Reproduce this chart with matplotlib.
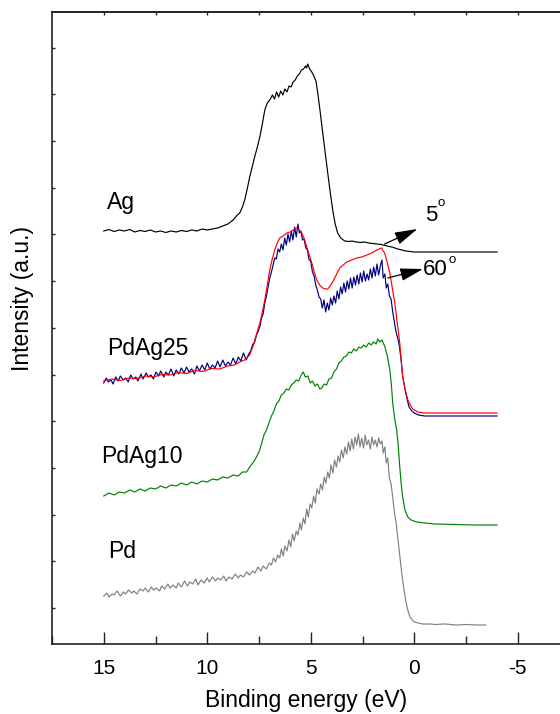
import numpy as np
import matplotlib
matplotlib.use("Agg")
import matplotlib.pyplot as plt

plt.rcParams['font.family'] = ['Liberation Sans', 'DejaVu Sans']

# ---------------- data (binding energy in eV, intensity in a.u.) ----------------
ag_x = [15.0, 14.75, 14.5, 14.25, 14.0, 13.75, 13.5, 13.25, 13.0, 12.75, 12.5, 12.25, 12.0, 11.75,
        11.5, 11.25, 11.0, 10.75, 10.5, 10.25, 10.0, 9.75, 9.5, 9.25, 9.0, 8.75, 8.55, 8.43, 8.3,
        8.19, 8.07, 7.95, 7.83, 7.71, 7.58, 7.46, 7.34, 7.22, 7.1, 6.98, 6.85, 6.75, 6.65, 6.55,
        6.45, 6.35, 6.25, 6.15, 6.05, 5.95, 5.85, 5.75, 5.65, 5.55, 5.45, 5.35, 5.25, 5.2, 5.15,
        5.05, 4.95, 4.85, 4.75, 4.66, 4.55, 4.42, 4.3, 4.18, 4.06, 3.94, 3.82, 3.7, 3.55, 3.36,
        3.15, 3.0, 2.8, 2.6, 2.4, 2.2, 2.0, 1.8, 1.6, 1.4, 1.2, 1.0, 0.8, 0.6, 0.4, 0.2, 0.0,
        -0.25, -0.5, -1.0, -1.5, -2.0, -2.5, -3.0, -3.5, -4.0]
ag_y = [413, 414.5, 412.5, 414, 413, 414.5, 412, 413.5, 412.5, 414, 412, 413, 411.5, 413,
        412, 413.5, 412.5, 414, 413, 415, 414, 415, 416, 418, 420, 424, 429, 431, 437,
        444, 455, 467, 477, 487, 497, 507, 520, 534, 541, 544, 549, 545, 552, 547,
        553, 549, 555, 552, 558, 557, 562, 564, 568, 570, 574, 575, 578, 576, 580,
        575, 572, 568, 563, 551, 533, 511, 491, 471, 452, 434, 420, 411, 406, 403,
        402.5, 403, 402, 401.5, 402, 401, 400.5, 400, 399.5, 398.5, 397.5, 396.5, 395, 394, 393, 392.5, 392,
        392, 392, 392, 392, 392, 392, 392, 392, 392]

pdag25_5_x = [15.0, 14.6, 14.2, 13.8, 13.4, 13.0, 12.6, 12.2, 11.8, 11.4, 11.0, 10.6, 10.2, 9.8,
              9.4, 9.0, 8.7, 8.43, 8.2, 7.95, 7.8, 7.66, 7.46, 7.34, 7.22, 7.1, 6.98, 6.86, 6.74,
              6.62, 6.5, 6.33, 6.16, 6.0, 5.85, 5.68, 5.55, 5.43, 5.31, 5.19, 5.07, 4.95, 4.83,
              4.71, 4.57, 4.42, 4.3, 4.18, 4.06, 3.94, 3.77, 3.6, 3.43, 3.26, 3.02, 2.78, 2.54,
              2.29, 2.05, 1.81, 1.69, 1.57, 1.5, 1.43, 1.3, 1.18, 1.06, 0.94, 0.82, 0.7, 0.63,
              0.56, 0.43, 0.31, 0.19, 0.07, -0.17, -0.5, -1.23, -2.0, -3.0, -4.0]
pdag25_5_y = [263, 265, 263.5, 266, 265.5, 268, 267, 269.5, 269, 271.5, 270.5, 273.5, 272.5, 275.5,
              275, 278, 279, 282, 284, 289, 297, 307, 321, 332, 344, 359, 374, 385, 394,
              401, 406, 408, 411, 412, 414, 416, 414, 411, 405, 397, 389, 381, 372,
              364, 359, 356, 355, 355, 358, 362, 369, 376, 379, 382, 384, 386, 387,
              389, 391, 394, 395, 396, 393, 391, 381, 371, 356, 341, 321, 301, 284,
              267, 254, 244, 239, 235, 232, 231, 231, 231, 231, 231]

pdag25_60_x = [15.0, 14.88, 14.78, 14.65, 14.55, 14.42, 14.3, 14.2, 14.05, 13.95, 13.82, 13.7, 13.58,
               13.45, 13.35, 13.2, 13.1, 12.95, 12.85, 12.72, 12.6, 12.48, 12.35, 12.25, 12.1, 12.0,
               11.88, 11.75, 11.62, 11.5, 11.38, 11.25, 11.12, 11.0, 10.88, 10.75, 10.62, 10.5,
               10.38, 10.25, 10.12, 10.0, 9.88, 9.75, 9.62, 9.5, 9.38, 9.25, 9.12, 9.0, 8.88, 8.75,
               8.62, 8.5, 8.38, 8.25, 8.12, 8.0, 7.9, 7.8, 7.72, 7.62, 7.55, 7.45, 7.38, 7.3, 7.22,
               7.14, 7.06, 6.98, 6.9, 6.82, 6.74, 6.66, 6.58, 6.5, 6.42, 6.34, 6.26, 6.18, 6.1, 6.02,
               5.94, 5.86, 5.78, 5.7, 5.62, 5.55, 5.48, 5.4, 5.32, 5.24, 5.16, 5.08, 5.0, 4.92, 4.84,
               4.76, 4.68, 4.6, 4.52, 4.44, 4.36, 4.28, 4.2, 4.12, 4.04, 3.96, 3.88, 3.8, 3.72, 3.64,
               3.56, 3.48, 3.4, 3.32, 3.24, 3.16, 3.08, 3.0, 2.92, 2.84, 2.76, 2.68, 2.6, 2.52, 2.44,
               2.36, 2.28, 2.2, 2.12, 2.04, 1.96, 1.88, 1.8, 1.72, 1.64, 1.56, 1.5, 1.42, 1.35, 1.28,
               1.2, 1.12, 1.04, 0.96, 0.88, 0.8, 0.72, 0.64, 0.56, 0.45, 0.35, 0.25, 0.12, 0.0, -0.2,
               -0.5, -1.0, -1.5, -2.0, -2.5, -3.0, -3.5, -4.0]
pdag25_60_y = [261, 266, 262, 264, 260, 267, 263, 268, 264, 266, 262, 269, 265,
               267, 263, 270, 265, 271, 267, 269, 265, 272, 268, 273, 267, 272,
               269, 275, 268, 274, 270, 276, 271, 277, 272, 275, 270, 278,
               273, 279, 274, 281, 275, 279, 276, 283, 277, 284, 278, 282, 279, 286,
               280, 287, 283, 291, 284, 290, 293, 300, 301, 309, 312, 318, 326, 330, 341,
               348, 357, 366, 372, 379, 386, 385, 395, 392, 400, 394, 406, 399, 410, 402,
               413, 404, 417, 407, 420, 411, 413, 404, 405, 396, 394, 384, 383, 372, 368,
               359, 354, 347, 345, 336, 344, 332, 341, 334, 346, 339, 348, 341, 353, 345,
               357, 350, 361, 352, 363, 355, 366, 356, 367, 359, 369, 360, 371, 362, 373,
               363, 370, 364, 375, 366, 377, 368, 380, 369, 378, 384, 366, 370, 356, 360,
               348, 345, 332, 322, 312, 306, 298, 285, 268, 255, 245, 237, 233, 231, 229,
               228, 228, 228, 228, 228, 228, 228, 228]

pdag10_x = [15.0, 14.75, 14.5, 14.25, 14.0, 13.75, 13.5, 13.25, 13.0, 12.75, 12.5, 12.25, 12.0,
            11.75, 11.5, 11.25, 11.0, 10.75, 10.5, 10.25, 10.0, 9.75, 9.5, 9.25, 9.0, 8.75, 8.5,
            8.3, 8.1, 7.95, 7.8, 7.65, 7.5, 7.38, 7.26, 7.14, 7.02, 6.9, 6.78, 6.66, 6.54, 6.42,
            6.3, 6.18, 6.06, 5.94, 5.82, 5.7, 5.58, 5.46, 5.36, 5.26, 5.14, 5.02, 4.92, 4.8, 4.68,
            4.56, 4.47, 4.36, 4.24, 4.12, 4.0, 3.88, 3.76, 3.64, 3.52, 3.4, 3.28, 3.16, 3.04,
            2.92, 2.8, 2.68, 2.56, 2.44, 2.32, 2.2, 2.08, 1.96, 1.84, 1.76, 1.66, 1.56, 1.48,
            1.43, 1.3, 1.18, 1.1, 1.04, 0.95, 0.85, 0.78, 0.7, 0.63, 0.56, 0.45, 0.31, 0.15,
            -0.12, -0.5, -1.0, -2.0, -3.0, -4.0]
pdag10_y = [148, 151, 149, 152, 151, 154, 152, 155, 153, 156, 155, 158, 156,
            159, 158, 161, 159, 162, 160, 163, 162, 165, 164, 167, 166, 169, 168,
            172, 172, 177, 181, 186, 192, 200, 209, 214, 221, 228, 233, 240, 243, 249,
            251, 255, 254, 259, 261, 264, 263, 269, 272, 267, 268, 261, 263, 258, 260,
            255, 256, 260, 259, 265, 266, 272, 275, 281, 283, 287, 288, 292, 291,
            295, 293, 297, 296, 299, 297, 301, 299, 302, 300, 305, 302, 304, 300,
            298, 288, 274, 258, 241, 226, 214, 200, 177, 160, 147, 134, 127, 124,
            122, 121, 120, 119.5, 119, 119]

pd_x = [15.0, 14.85, 14.75, 14.6, 14.5, 14.35, 14.2, 14.05, 13.95, 13.8, 13.65, 13.55, 13.4, 13.25,
        13.1, 13.0, 12.85, 12.7, 12.6, 12.45, 12.3, 12.2, 12.05, 11.9, 11.8, 11.65, 11.5, 11.4,
        11.25, 11.1, 10.95, 10.85, 10.7, 10.55, 10.45, 10.3, 10.15, 10.0, 9.9, 9.75, 9.6, 9.5,
        9.35, 9.2, 9.1, 8.95, 8.8, 8.65, 8.5, 8.4, 8.25, 8.1, 7.95, 7.8, 7.7, 7.55, 7.4, 7.3,
        7.15, 7.0, 6.9, 6.8, 6.7, 6.6, 6.5, 6.42, 6.33, 6.25, 6.15, 6.05, 5.97, 5.88, 5.8, 5.7,
        5.62, 5.52, 5.45, 5.36, 5.28, 5.2, 5.12, 5.03, 4.95, 4.86, 4.78, 4.7, 4.6, 4.52, 4.43,
        4.35, 4.27, 4.18, 4.1, 4.02, 3.93, 3.85, 3.76, 3.68, 3.6, 3.52, 3.43, 3.35, 3.26, 3.18,
        3.1, 3.02, 2.94, 2.86, 2.78, 2.7, 2.62, 2.54, 2.45, 2.37, 2.3, 2.21, 2.12, 2.04, 1.96,
        1.88, 1.8, 1.72, 1.64, 1.56, 1.5, 1.42, 1.35, 1.28, 1.2, 1.12, 1.04, 0.95, 0.88, 0.8,
        0.7, 0.6, 0.5, 0.4, 0.3, 0.2, 0.1, 0.0, -0.2, -0.4, -0.75, -1.0, -1.5, -2.0, -2.5,
        -3.0, -3.45]
pd_y = [48, 51, 47, 50, 49, 53, 48, 52, 50, 54, 51, 53, 50, 55,
        53, 56, 52, 57, 54, 56, 53, 58, 55, 60, 56, 59, 56, 61,
        57, 63, 58, 62, 60, 65, 59, 64, 61, 66, 62, 67, 63, 66,
        64, 68, 63, 67, 65, 70, 66, 69, 67, 72, 69, 73, 71, 77, 73, 78,
        75, 81, 79, 86, 82, 89, 86, 95, 88, 98, 93, 104, 97, 110, 103, 113,
        109, 121, 114, 126, 120, 135, 127, 140, 136, 148, 141, 155, 150, 160, 154,
        167, 161, 172, 166, 179, 171, 184, 177, 188, 182, 194, 186, 197, 190, 202,
        193, 205, 195, 207, 199, 210, 197, 206, 196, 209, 199, 204, 195, 207, 199,
        204, 197, 206, 200, 203, 191, 197, 181, 186, 166, 160, 147, 130, 122, 107,
        88, 70, 55, 42, 33, 27, 24, 22, 21, 20, 20, 19.5, 20, 19, 19.5,
        19, 19]

labels = ["Ag", "PdAg25", "PdAg10", "Pd"]
angle_labels = ["5", "60"]

# ---------------- figure ----------------
fig = plt.figure(figsize=(5.6, 7.14), dpi=100)
ax = fig.add_axes([52 / 560, 70 / 714, 517.5 / 560, 632 / 714])

lw = 0.85
ax.plot(ag_x, ag_y, color='black', lw=lw)
ax.plot(pdag25_60_x, pdag25_60_y, color='#000080', lw=lw)
ax.plot(pdag25_5_x, pdag25_5_y, color='#ff0000', lw=lw)
ax.plot(pdag10_x, pdag10_y, color='#008000', lw=lw)
ax.plot(pd_x, pd_y, color='#808080', lw=lw)

ax.set_xlim(17.5, -7.5)
ax.set_ylim(0, 632)

ax.set_xticks([15, 10, 5, 0, -5])
ax.set_xticklabels(["15", "10", "5", "0", "-5"])
ax.set_xticks([17.5, 12.5, 7.5, 2.5, -2.5, -7.5], minor=True)
ax.tick_params(axis='x', which='major', direction='in', length=9, width=1.0,
               labelsize=15, pad=10.5, top=False, color='#222222')
ax.tick_params(axis='x', which='minor', direction='in', length=5.5, width=1.0,
               top=False, color='#222222')
ax.set_yticks(36 + 46.7 * np.arange(13))
ax.set_yticklabels([])
ax.tick_params(axis='y', which='major', direction='in', length=2.2, width=1.0,
               right=False, color='#222222')

sec = ax.secondary_xaxis('top')
sec.set_xticks([15, 12.5, 10, 7.5, 5, 2.5, 0, -2.5, -5])
sec.tick_params(direction='in', length=2.2, width=1.0, labeltop=False, color='#222222')
sec.spines['top'].set_linewidth(1.2)
sec.spines['top'].set_color('#222222')

for s in ax.spines.values():
    s.set_linewidth(1.2)
    s.set_color('#222222')

# curve labels
fs = 16.5
ax.text(14.86, 441, labels[0], fontsize=fs, va='center', ha='left')
ax.text(14.86, 296, labels[1], fontsize=fs, va='center', ha='left')
ax.text(15.14, 187, labels[2], fontsize=fs, va='center', ha='left')
ax.text(14.80, 92, labels[3], fontsize=fs, va='center', ha='left')

# angle annotations
arrow = dict(arrowstyle='-|>,head_length=1.0,head_width=0.28', color='black', lw=0.9,
             mutation_scale=14, shrinkA=0, shrinkB=0)
ax.annotate('', xy=(-0.15, 415), xytext=(1.43, 400), arrowprops=arrow)
ax.annotate('', xy=(-0.42, 375), xytext=(1.28, 366), arrowprops=arrow)
ax.text(-0.51, 428.5, angle_labels[0], fontsize=16, va='center', ha='left')
ax.text(-1.14, 440.5, 'o', fontsize=9.5, va='center', ha='left')
ax.text(-0.41, 374.5, angle_labels[1], fontsize=16, va='center', ha='left')
ax.text(-1.67, 384, 'o', fontsize=9.5, va='center', ha='left')

fig.text(306 / 560, 1 - 700 / 714, "Binding energy (eV)", fontsize=16.5, ha='center', va='center')
fig.text(23 / 560, 1 - 298 / 714, "Intensity (a.u.)", fontsize=16.5, ha='center', va='center',
         rotation=90)

fig.savefig("out.png", dpi=100)
